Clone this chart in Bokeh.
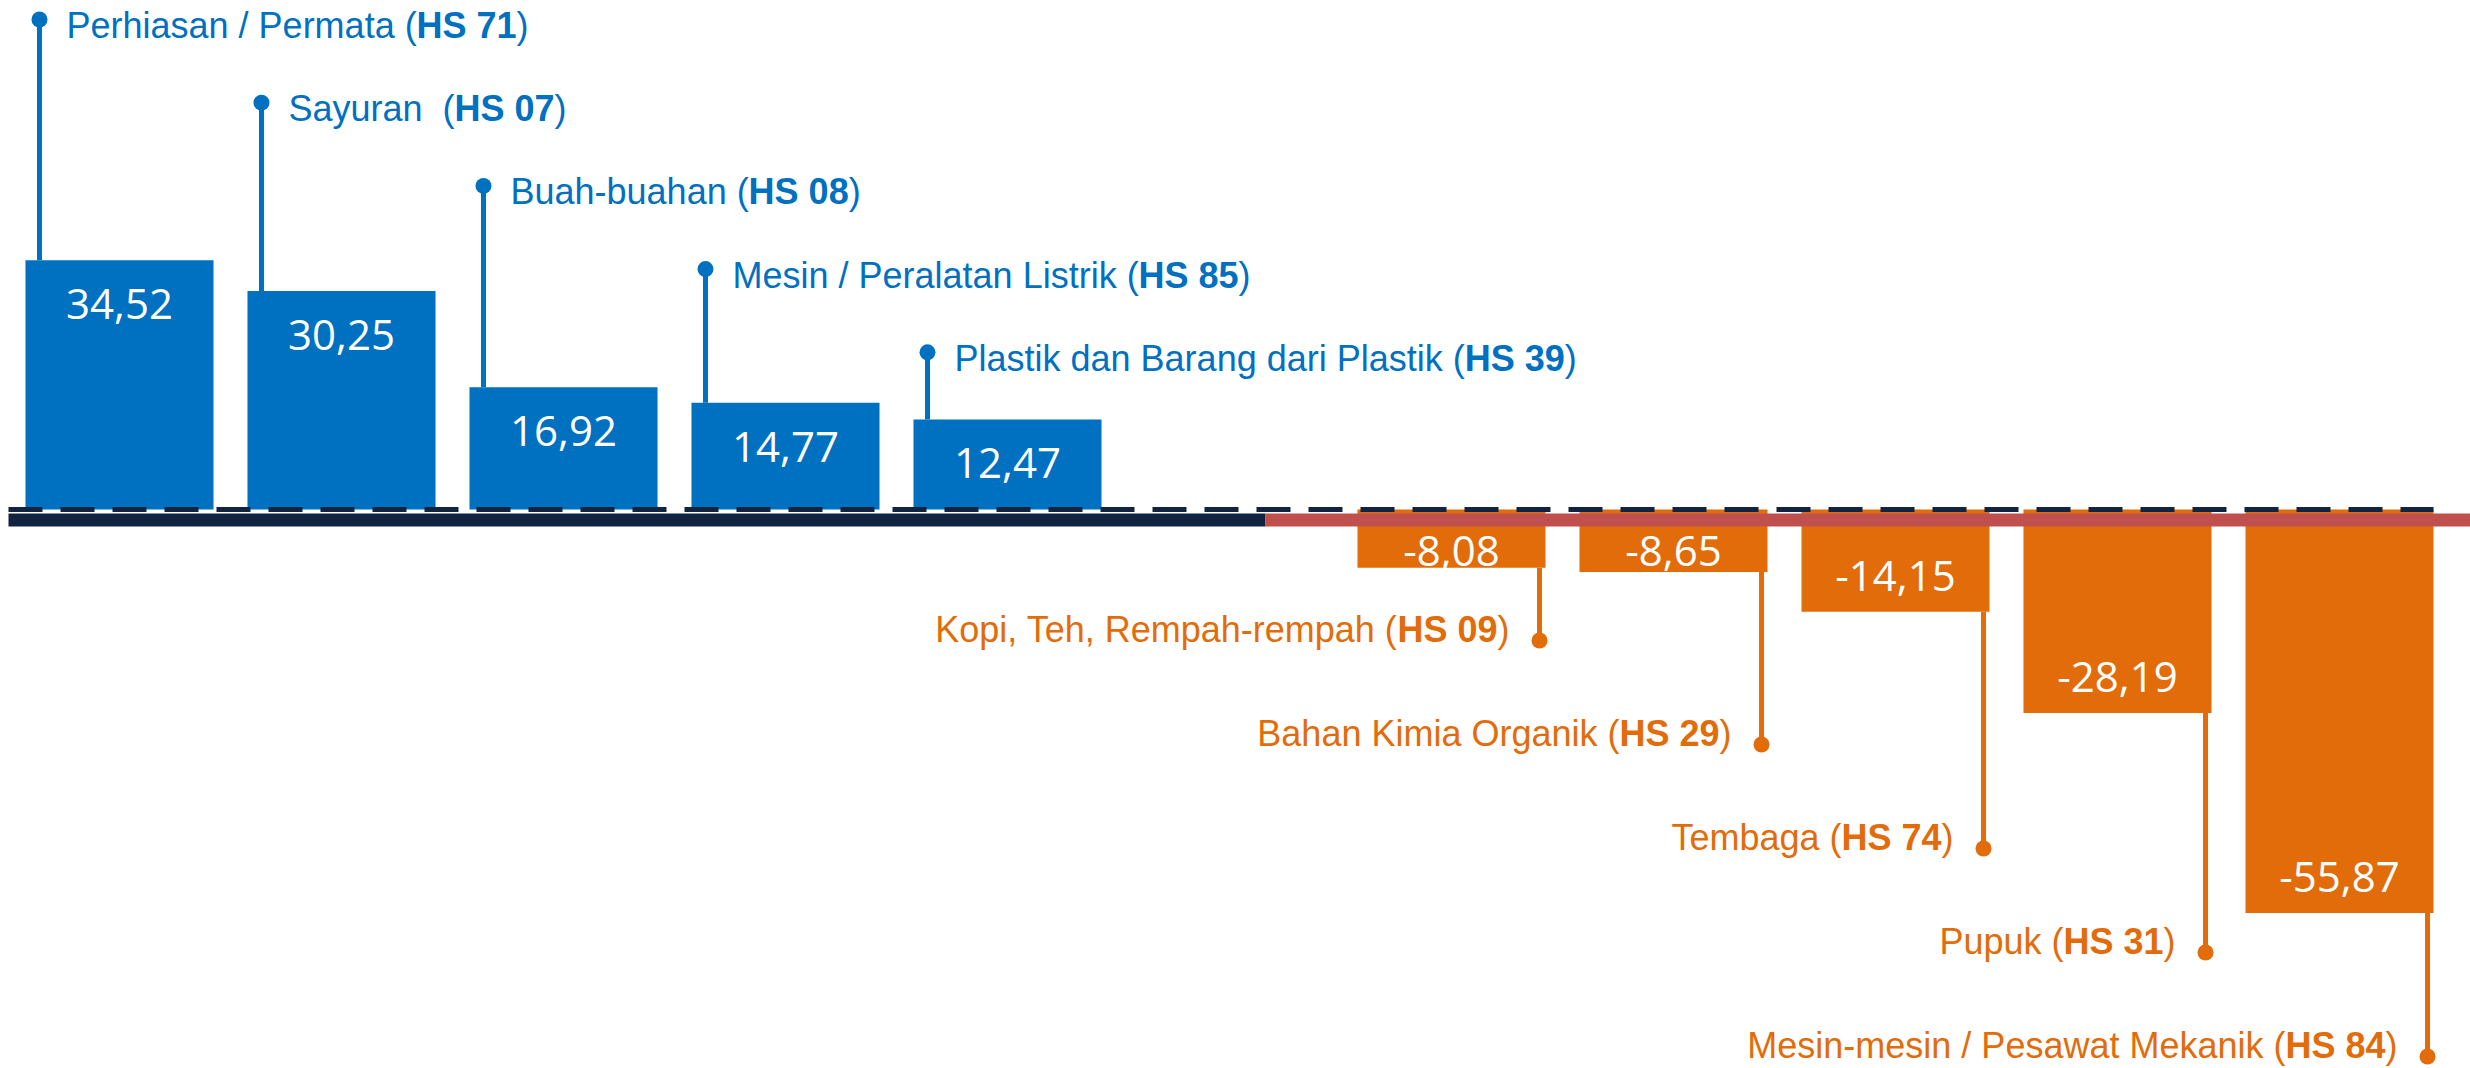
import os
import glob
from bokeh.plotting import figure
from bokeh.models import ColumnDataSource, Range1d
from bokeh.embed import file_html
from bokeh.resources import INLINE
from bokeh.core.properties import value

# ---------------- data ----------------
pos_names = ["Perhiasan / Permata", "Sayuran\u00a0", "Buah-buahan", "Mesin / Peralatan Listrik",
             "Plastik dan Barang dari Plastik"]
pos_codes = ["HS 71", "HS 07", "HS 08", "HS 85", "HS 39"]
pos_values = [34.52, 30.25, 16.92, 14.77, 12.47]

neg_names = ["Kopi, Teh, Rempah-rempah", "Bahan Kimia Organik", "Tembaga", "Pupuk",
             "Mesin-mesin / Pesawat Mekanik"]
neg_codes = ["HS 09", "HS 29", "HS 74", "HS 31", "HS 84"]
neg_values = [-8.08, -8.65, -14.15, -28.19, -55.87]

# ---------------- style / layout ----------------
BLUE = "#0070C0"
ORANGE = "#E36C0A"
NAVY = "#12233F"
RED = "#C0504D"

W, H = 2470, 1068
PX_X = 222.0      # pixels per category slot
PX_Y = 7.22       # pixels per value unit
ZERO = 509        # figure pixel row of the zero line
X0 = -119.0 / PX_X
BAR_W = 0.847
x_end = X0 + W / PX_X
y_top = ZERO / PX_Y
y_bot = -(H - ZERO) / PX_Y


def ux(px):
    return px / PX_X


def uy(px):
    return px / PX_Y


def fy(row):
    return (ZERO - row) / PX_Y


# ---------------- fonts / measuring ----------------
def find_font(names):
    roots = ["/usr/share/fonts", "/usr/local/share/fonts",
             os.path.expanduser("~/.fonts"), os.path.expanduser("~/.local/share/fonts")]
    for n in names:
        for r in roots:
            hits = glob.glob(os.path.join(r, "**", n), recursive=True)
            if hits:
                return hits[0]
    return None


reg_path = find_font(["LiberationSansNarrow-Regular.ttf"])
bold_path = find_font(["LiberationSansNarrow-Bold.ttf"])
if reg_path and bold_path:
    LFAM, LSIZE = "Liberation Sans Narrow", 42
else:
    LFAM, LSIZE = "Liberation Sans", 36
    reg_path = find_font(["LiberationSans-Regular.ttf"])
    bold_path = find_font(["LiberationSans-Bold.ttf"])

try:
    from PIL import ImageFont
    f_reg = ImageFont.truetype(reg_path, LSIZE) if reg_path else None
    f_bold = ImageFont.truetype(bold_path, LSIZE) if bold_path else None
except Exception:
    f_reg = f_bold = None


def measure(text, bold=False):
    f = f_bold if bold else f_reg
    if f is not None:
        try:
            return float(f.getlength(text))
        except Exception:
            pass
    return len(text) * LSIZE * (0.5 if bold else 0.45)


# ---------------- figure ----------------
p = figure(width=W, height=H, x_range=Range1d(X0, x_end), y_range=Range1d(y_bot, y_top),
           output_backend="svg", toolbar_location=None, min_border=0,
           x_axis_location=None, y_axis_location=None, outline_line_color=None)
p.grid.visible = False
p.background_fill_color = "white"
p.border_fill_color = "white"

pos_x = list(range(len(pos_values)))
neg_x = [len(pos_values) + 1 + i for i in range(len(neg_values))]

p.vbar(x="x", top="top", bottom=0, width=BAR_W, fill_color=BLUE, line_color=None,
       source=ColumnDataSource(dict(x=pos_x, top=pos_values)))
p.vbar(x="x", top="top", bottom=0, width=BAR_W, fill_color=ORANGE, line_color=None,
       source=ColumnDataSource(dict(x=neg_x, top=neg_values)))

# baseline band and dashed zero line
split = X0 + 1265.0 / PX_X
p.quad(left=[X0 + ux(8), split], right=[split, x_end], top=[fy(ZERO + 4)] * 2,
       bottom=[fy(ZERO + 17)] * 2, fill_color=[NAVY, RED], line_color=None)
p.segment(x0=[X0 + ux(8)], x1=[neg_x[-1] + BAR_W / 2], y0=[0], y1=[0], line_color=NAVY,
          line_width=5, line_dash="34 18")

# value labels
def fmt(v):
    return ("%.2f" % v).replace(".", ",")

vl_x = pos_x + neg_x
vl_y = [v - uy(44) for v in pos_values] + [min(v + uy(36), -uy(41)) for v in neg_values]
vl_t = [fmt(v) for v in pos_values + neg_values]
p.text(x="x", y="y", text="t", source=ColumnDataSource(dict(x=vl_x, y=vl_y, t=vl_t)),
       text_color="white", text_font=value("Open Sans"), text_font_size="42px",
       text_align="center", text_baseline="middle")

# leader lines, dots and category labels
seg_rows = []
for i, (xv, v) in enumerate(zip(pos_x, pos_values)):
    lx = xv - BAR_W / 2 + ux(14)
    row = 19 + 83.2 * i
    seg_rows.append((lx, v, fy(row), BLUE))
    base_x = lx + ux(27)
    ly = fy(row + 6)
    parts = [(pos_names[i] + " (", False), (pos_codes[i], True), (")", False)]
    off = 0.0
    for txt, b in parts:
        p.text(x=[base_x], y=[ly], text=[txt], x_offset=off, text_color=BLUE,
               text_font=value(LFAM), text_font_size="%dpx" % LSIZE,
               text_font_style="bold" if b else "normal",
               text_align="left", text_baseline="middle")
        off += measure(txt, b)

for i, (xv, v) in enumerate(zip(neg_x, neg_values)):
    lx = xv + BAR_W / 2 - ux(6)
    row = 640 + 104 * i
    seg_rows.append((lx, v, fy(row), ORANGE))
    end_x = lx - ux(30)
    ly = fy(row - 11)
    parts = [(neg_names[i] + " (", False), (neg_codes[i], True), (")", False)]
    off = 0.0
    for txt, b in reversed(parts):
        p.text(x=[end_x], y=[ly], text=[txt], x_offset=-off, text_color=ORANGE,
               text_font=value(LFAM), text_font_size="%dpx" % LSIZE,
               text_font_style="bold" if b else "normal",
               text_align="right", text_baseline="middle")
        off += measure(txt, b)

seg_src = ColumnDataSource(dict(x=[r[0] for r in seg_rows], y0=[r[1] for r in seg_rows],
                                y1=[r[2] for r in seg_rows], c=[r[3] for r in seg_rows]))
p.segment(x0="x", x1="x", y0="y0", y1="y1", line_color="c", line_width=5, source=seg_src)
p.scatter(x="x", y="y1", marker="circle", size=16, fill_color="c", line_color=None, source=seg_src)

open("out.html", "w").write(file_html(p, INLINE))
